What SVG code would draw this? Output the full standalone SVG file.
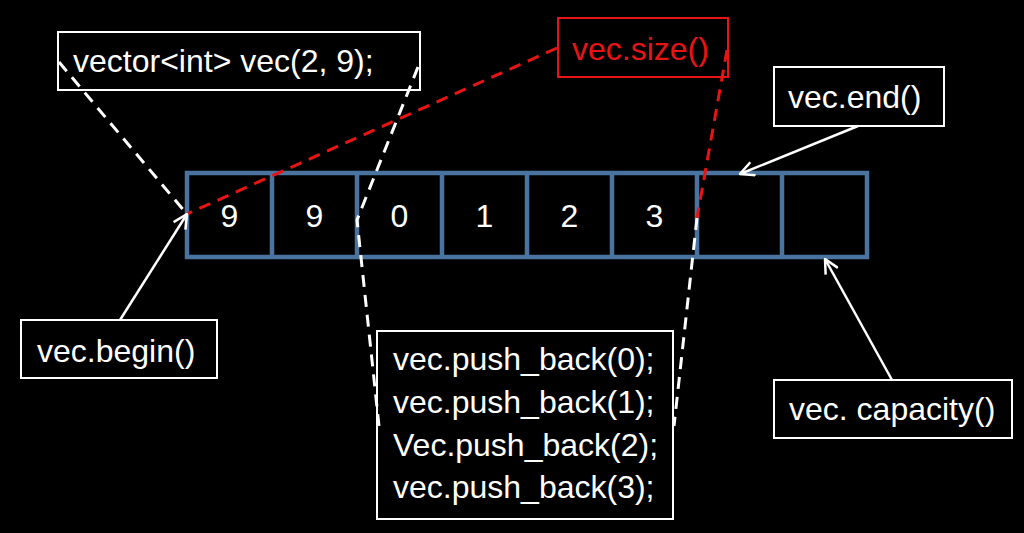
<svg xmlns="http://www.w3.org/2000/svg" width="1024" height="533" viewBox="0 0 1024 533">
<defs>
<style>
.t{font-family:"Liberation Sans",Arial,sans-serif;font-size:32px;fill:#ffffff}
.r{fill:#e81414}
.box{fill:#000;stroke:#fff;stroke-width:2}
.rbox{fill:none;stroke:#e81414;stroke-width:2}
.cell{fill:none;stroke:#4a73a0;stroke-width:4.5}
.dw{fill:none;stroke:#fff;stroke-width:3;stroke-dasharray:12 8}
.dr{fill:none;stroke:#e81414;stroke-width:3;stroke-dasharray:12 8}
.ar{fill:none;stroke:#fff;stroke-width:2.5;marker-end:url(#open)}
</style>
<marker id="open" viewBox="0 0 16 16" refX="15" refY="8" markerWidth="16" markerHeight="16" markerUnits="userSpaceOnUse" orient="auto">
<path d="M1,1 L15,8 L1,15" fill="none" stroke="#fff" stroke-width="2.5"/>
</marker>
</defs>
<rect width="1024" height="533" fill="#000"/>

<g id="array">
<rect class="cell" x="187" y="173" width="680" height="84"/>
<path class="cell" d="M272,173V257M357,173V257M442,173V257M527,173V257M612,173V257M697,173V257M782,173V257"/>
<text class="t" x="229.5" y="227" text-anchor="middle">9</text>
<text class="t" x="314.5" y="227" text-anchor="middle">9</text>
<text class="t" x="399.5" y="227" text-anchor="middle">0</text>
<text class="t" x="484.5" y="227" text-anchor="middle">1</text>
<text class="t" x="569.5" y="227" text-anchor="middle">2</text>
<text class="t" x="654.5" y="227" text-anchor="middle">3</text>
</g>

<g id="decl">
<rect class="box" x="58" y="32" width="362" height="58"/>
<text class="t" x="73" y="72">vector&lt;int&gt; vec(2, 9);</text>
</g>

<g id="size">
<rect class="rbox" x="558" y="18" width="170" height="59"/>
<text class="t r" x="572" y="60">vec.size()</text>
</g>

<g id="end">
<rect class="box" x="774" y="67" width="170" height="59"/>
<text class="t" x="788" y="108">vec.end()</text>
</g>

<g id="begin">
<rect class="box" x="21" y="320" width="196" height="58"/>
<text class="t" x="37" y="362">vec.begin()</text>
</g>

<g id="pushes">
<rect class="box" x="377" y="331" width="296" height="188"/>
<text class="t" x="393" y="370">vec.push_back(0);</text>
<text class="t" x="393" y="413">vec.push_back(1);</text>
<text class="t" x="393" y="456">Vec.push_back(2);</text>
<text class="t" x="393" y="498">vec.push_back(3);</text>
</g>

<g id="capacity">
<rect class="box" x="774" y="380" width="238" height="58"/>
<text class="t" x="789" y="420">vec. capacity()</text>
</g>

<g id="connectors">
<path class="dw" d="M59,62 L186,213"/>
<path class="dw" d="M418,67 L357,220 L379,426"/>
<path class="dw" d="M697,218 L674,426"/>
<path class="dr" d="M727,50 L697,218"/>
<path class="dr" d="M557,48 L187,214"/>
<path class="ar" d="M120,320 L187,214"/>
<path class="ar" d="M858,126 L740,174"/>
<path class="ar" d="M892,380 L825,259"/>
</g>
</svg>
